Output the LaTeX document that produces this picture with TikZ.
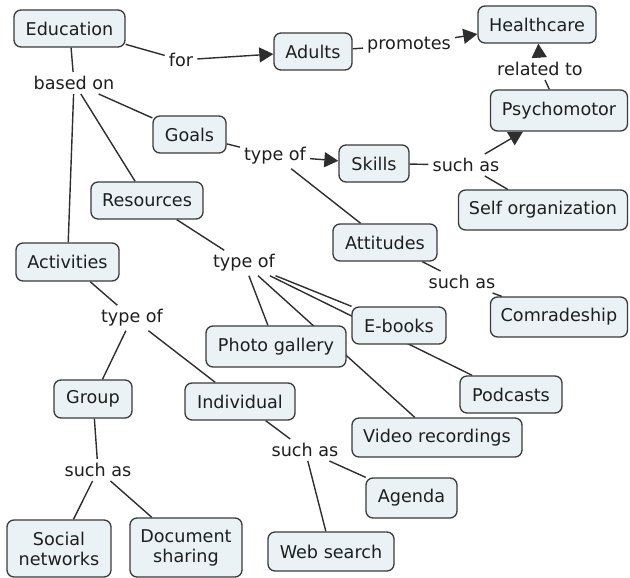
\documentclass[tikz,border=0pt]{standalone}
\usepackage{fontspec}
\setmainfont{DejaVu Sans}
\usetikzlibrary{arrows.meta,backgrounds}
\definecolor{conceptfill}{HTML}{EAF2F6}
\definecolor{bordergray}{HTML}{3A3A3A}
\definecolor{linegray}{HTML}{2E2E2E}
\definecolor{textgray}{HTML}{1E1E1E}
\begin{document}
\begin{tikzpicture}[x=1pt,y=-1pt,
  font=\fontsize{17.6}{20}\selectfont,
  concept/.style={draw=bordergray, fill=conceptfill, rounded corners=7pt,
    line width=1.3pt, inner sep=0pt, text=textgray, align=center},
  linkph/.style={inner sep=4pt, text=textgray},
  edge/.style={line width=1.4pt, draw=linegray},
  arr/.style={edge, -{Triangle[length=14pt,width=15pt]}}]
\useasboundingbox (0,0) rectangle (630,578);

% concepts
\node[concept, minimum width=111pt, minimum height=37pt] (edu)      at (69.5,28.5)  {Education};
\node[concept, minimum width=78pt,  minimum height=37pt] (adults)   at (313,51.5)   {Adults};
\node[concept, minimum width=118pt, minimum height=37pt] (health)   at (537,24.5)   {Healthcare};
\node[concept, minimum width=137pt, minimum height=41pt] (psycho)   at (559,110.5)  {Psychomotor};
\node[concept, minimum width=73pt,  minimum height=37pt] (goals)    at (189.5,134.5){Goals};
\node[concept, minimum width=70pt,  minimum height=37pt] (skills)   at (374,163.5)  {Skills};
\node[concept, minimum width=169pt, minimum height=40pt] (selforg)  at (543,210)    {Self organization};
\node[concept, minimum width=112pt, minimum height=37pt] (res)      at (147,200.5)  {Resources};
\node[concept, minimum width=104pt, minimum height=37pt] (att)      at (385,242.5)  {Attitudes};
\node[concept, minimum width=103pt, minimum height=38pt] (act)      at (67.5,262)   {Activities};
\node[concept, minimum width=137pt, minimum height=40pt] (comr)     at (559,317)    {Comradeship};
\node[concept, minimum width=94pt,  minimum height=37pt] (ebooks)   at (399,325.5)  {E-books};
\node[concept, minimum width=140pt, minimum height=41pt] (photo)    at (276,346.5)  {Photo gallery};
\node[concept, minimum width=102pt, minimum height=37pt] (podc)     at (511,394.5)  {Podcasts};
\node[concept, minimum width=78pt,  minimum height=38pt] (group)    at (93,399)     {Group};
\node[concept, minimum width=110pt, minimum height=37pt] (indiv)    at (240,401.5)  {Individual};
\node[concept, minimum width=170pt, minimum height=39pt] (video)    at (437,437.5)  {Video recordings};
\node[concept, minimum width=91pt,  minimum height=40pt] (agenda)   at (411.5,498)  {Agenda};
\node[concept, minimum width=104pt, minimum height=57pt] (social)   at (59,548.5)   {Social\\networks};
\node[concept, minimum width=112pt, minimum height=59pt] (docshare) at (186,547.5)  {Document\\sharing};
\node[concept, minimum width=126pt, minimum height=39pt] (web)      at (331,551.5)  {Web search};

% linking phrases
\node[linkph] (lfor)   at (181,60)  {for};
\node[linkph] (lprom)  at (409,45)  {promotes};
\node[linkph] (lrel)   at (540,69)  {related to};
\node[linkph] (lbased) at (74,83)   {based on};
\node[linkph] (ltypeg) at (275,156) {type of};
\node[linkph] (lsuchs) at (466,165) {such as};
\node[linkph] (ltyper) at (244,263) {type of};
\node[linkph] (lsucha) at (462,282) {such as};
\node[linkph] (ltypea) at (132,318) {type of};
\node[linkph] (lsuchi) at (305,450) {such as};
\node[linkph] (lsuchg) at (98,470)  {such as};

% connectors, drawn behind the concepts
\begin{scope}[on background layer]
  \draw[edge] (edu) -- (lfor);
  \draw[arr]  (lfor) -- (adults);
  \draw[edge] (adults) -- (lprom);
  \draw[arr]  (lprom) -- (health);
  \draw[edge] (psycho) -- (lrel);
  \draw[arr]  (lrel) -- (health);

  \draw[edge] (edu) -- (lbased);
  \draw[edge] (lbased) -- (goals);
  \draw[edge] (lbased) -- (res);
  \draw[edge] (lbased) -- (act);

  \draw[edge] (goals) -- (ltypeg);
  \draw[arr]  (ltypeg) -- (skills);
  \draw[edge] (ltypeg) -- (att);

  \draw[edge] (skills) -- (lsuchs);
  \draw[arr]  (lsuchs) -- (psycho);
  \draw[edge] (lsuchs) -- (selforg);

  \draw[edge] (att) -- (lsucha);
  \draw[edge] (lsucha) -- (comr);

  \draw[edge] (res) -- (ltyper);
  \draw[edge] (ltyper) -- (photo);
  \draw[edge] (ltyper) -- (video);
  \draw[edge] (ltyper) -- (ebooks);
  \draw[edge] (ltyper) -- (podc);

  \draw[edge] (act) -- (ltypea);
  \draw[edge] (ltypea) -- (group);
  \draw[edge] (ltypea) -- (indiv);

  \draw[edge] (indiv) -- (lsuchi);
  \draw[edge] (lsuchi) -- (agenda);
  \draw[edge] (lsuchi) -- (web);

  \draw[edge] (group) -- (lsuchg);
  \draw[edge] (lsuchg) -- (social);
  \draw[edge] (lsuchg) -- (docshare);
\end{scope}
\end{tikzpicture}
\end{document}
